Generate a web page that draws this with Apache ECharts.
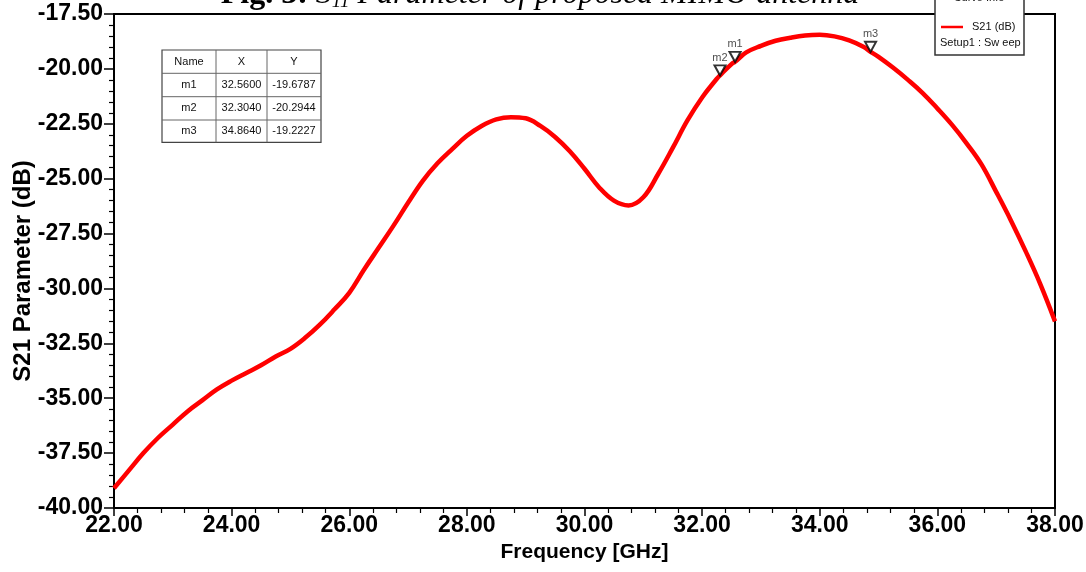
<!DOCTYPE html>
<html>
<head>
<meta charset="utf-8">
<title>S21 Parameter</title>
<script src="https://cdn.jsdelivr.net/npm/echarts@6/dist/echarts.min.js"></script>
<style>
  html, body { margin: 0; padding: 0; background: #fff; }
  #chart { width: 1086px; height: 572px; }
</style>
</head>
<body>
<div id="chart"></div>
<script>
// sweep, GHz / dB
const freqGHz = [22.0, 22.25, 22.5, 22.75, 23.0, 23.25, 23.5, 23.75, 24.0, 24.25, 24.5, 24.75,
  25.0, 25.25, 25.5, 25.75, 26.0, 26.25, 26.5, 26.75, 27.0, 27.25, 27.5, 27.75,
  28.0, 28.25, 28.5, 28.75, 29.0, 29.25, 29.5, 29.75, 30.0, 30.25, 30.5, 30.75,
  31.0, 31.25, 31.5, 31.75, 32.0, 32.25, 32.304, 32.5, 32.56, 32.75, 33.0, 33.25,
  33.5, 33.75, 34.0, 34.25, 34.5, 34.75, 34.864, 35.0, 35.25, 35.5, 35.75, 36.0,
  36.25, 36.5, 36.75, 37.0, 37.25, 37.5, 37.75, 38.0]
const s21dB = [-39.1, -38.3, -37.5, -36.8, -36.2, -35.6, -35.1, -34.6, -34.2, -33.85, -33.5, -33.1,
  -32.75, -32.25, -31.65, -30.95, -30.2, -29.15, -28.15, -27.15, -26.1, -25.1, -24.3, -23.65,
  -23.05, -22.6, -22.3, -22.2, -22.25, -22.6, -23.1, -23.75, -24.55, -25.4, -26.0, -26.22,
  -25.85, -24.8, -23.6, -22.35, -21.3, -20.45, -20.2944, -19.78, -19.6787, -19.25, -18.95, -18.72,
  -18.58, -18.48, -18.45, -18.52, -18.7, -19.0, -19.2227, -19.45, -19.95, -20.5, -21.1, -21.8,
  -22.55, -23.4, -24.35, -25.6, -26.9, -28.3, -29.8, -31.5]

const markerNames = ['m1', 'm2', 'm3']
const markerFreq = [32.56, 32.304, 34.864]
const markerVal = [-19.6787, -20.2944, -19.2227]

const tableHead = ['Name', 'X', 'Y']

const axisFont = '"Liberation Sans", Arial, sans-serif'
const smallFont = '"Liberation Sans", Arial, sans-serif'

function buildTable() {
  const colX = [162, 216, 267, 321]
  const rowY = [50, 73.3, 96.7, 120, 142.3]
  const rows = [tableHead]
  for (let i = 0; i < markerNames.length; i++) {
    rows.push([markerNames[i], markerFreq[i].toFixed(4), markerVal[i].toFixed(4)])
  }
  const els = [{
    type: 'rect',
    shape: { x: colX[0], y: rowY[0], width: colX[3] - colX[0], height: rowY[4] - rowY[0] },
    style: { fill: '#fff', stroke: '#444', lineWidth: 1.2 }
  }]
  for (let c = 1; c < 3; c++) {
    els.push({ type: 'line', shape: { x1: colX[c], y1: rowY[0], x2: colX[c], y2: rowY[4] }, style: { stroke: '#666', lineWidth: 1 } })
  }
  for (let r = 1; r < 4; r++) {
    els.push({ type: 'line', shape: { x1: colX[0], y1: rowY[r], x2: colX[3], y2: rowY[r] }, style: { stroke: '#666', lineWidth: 1 } })
  }
  rows.forEach((row, r) => {
    row.forEach((txt, c) => {
      els.push({
        type: 'text',
        x: (colX[c] + colX[c + 1]) / 2,
        y: (rowY[r] + rowY[r + 1]) / 2,
        style: { text: txt, fill: '#111', font: '11px ' + smallFont, align: 'center', verticalAlign: 'middle' }
      })
    })
  })
  return { type: 'group', z: 10, children: els }
}

function buildLegend() {
  return {
    type: 'group',
    z: 10,
    children: [
      { type: 'rect', shape: { x: 935, y: -20, width: 89, height: 75 }, style: { fill: '#fff', stroke: '#333', lineWidth: 1.5 } },
      { type: 'text', x: 979, y: -2, style: { text: 'Curve Info', fill: '#111', font: '11px ' + smallFont, align: 'center', verticalAlign: 'middle' } },
      { type: 'line', shape: { x1: 941, y1: 27, x2: 963, y2: 27 }, style: { stroke: '#ff0000', lineWidth: 2.5 } },
      { type: 'text', x: 972, y: 27, style: { text: 'S21 (dB)', fill: '#111', font: '11px ' + smallFont, verticalAlign: 'middle' } },
      { type: 'text', x: 940, y: 43, style: { text: 'Setup1 : Sw eep', fill: '#111', font: '11px ' + smallFont, verticalAlign: 'middle' } }
    ]
  }
}

const chart = echarts.init(document.getElementById('chart'))

const option = {
  backgroundColor: '#fff',
  animation: false,
  grid: {
    left: 114, right: 31, top: 14, bottom: 64,
    outerBoundsMode: 'none',
    containLabel: false,
    show: true, borderColor: '#000', borderWidth: 2
  },
  xAxis: {
    type: 'value',
    min: 22,
    max: 38,
    interval: 2,
    name: 'Frequency [GHz]',
    nameLocation: 'middle',
    nameGap: 31,
    nameTextStyle: { fontFamily: axisFont, fontWeight: 'bold', fontSize: 21, color: '#000' },
    axisLine: { lineStyle: { color: '#000', width: 2 } },
    axisTick: { length: 8, lineStyle: { color: '#000', width: 1.5 } },
    minorTick: { show: true, splitNumber: 5, length: 5, lineStyle: { color: '#000', width: 1.2 } },
    splitLine: { show: false },
    axisLabel: { margin: 6, fontFamily: axisFont, fontWeight: 'bold', fontSize: 23, color: '#000', formatter: v => v.toFixed(2) }
  },
  yAxis: {
    type: 'value',
    min: -40,
    max: -17.5,
    interval: 2.5,
    name: 'S21 Parameter (dB)',
    nameLocation: 'middle',
    nameGap: 79,
    nameMoveOverlap: false,
    nameTextStyle: { fontFamily: axisFont, fontWeight: 'bold', fontSize: 24, color: '#000', padding: [0, 20, 0, 0] },
    axisLine: { lineStyle: { color: '#000', width: 2 } },
    axisTick: { length: 10, lineStyle: { color: '#000', width: 1.5 } },
    minorTick: { show: true, splitNumber: 5, length: 5, lineStyle: { color: '#000', width: 1.2 } },
    splitLine: { show: false },
    axisLabel: { margin: 11, fontFamily: axisFont, fontWeight: 'bold', fontSize: 23, color: '#000', formatter: v => v.toFixed(2) }
  },
  series: [
    {
      name: 'S21 (dB)',
      type: 'line',
      data: freqGHz.map((f, i) => [f, s21dB[i]]),
      symbol: 'none',
      smooth: 0.4,
      lineStyle: { color: '#ff0000', width: 4.5 },
      z: 2
    },
    {
      name: 'markers',
      type: 'scatter',
      data: markerNames.map((n, i) => ({ name: n, value: [markerFreq[i], markerVal[i]] })),
      symbol: 'path://M0,0 L12,0 L6,11 Z',
      symbolSize: [11, 10],
      symbolOffset: [0, '-50%'],
      itemStyle: { color: '#fff', borderColor: '#000', borderWidth: 2 },
      label: { show: true, position: 'top', distance: 1, formatter: '{b}', fontFamily: smallFont, fontSize: 11, color: '#222' },
      z: 3
    }
  ],
  graphic: [
    {
      type: 'text',
      x: 540,
      y: -5,
      z: 20,
      style: {
        text: '{b|Fig. 3: }{i|S}{sub|11}{i| Parameter of proposed MIMO antenna}',
        align: 'center',
        verticalAlign: 'middle',
        rich: {
          b: { font: 'bold 32px "Liberation Serif", "Times New Roman", serif', fill: '#000' },
          i: { font: 'italic 32px "Liberation Serif", "Times New Roman", serif', fill: '#000' },
          sub: { font: 'italic 19px "Liberation Serif", "Times New Roman", serif', fill: '#000', padding: [14, 0, 0, 0] }
        }
      }
    },
    buildTable(),
    buildLegend()
  ]
}

chart.setOption(option)
</script>
</body>
</html>
